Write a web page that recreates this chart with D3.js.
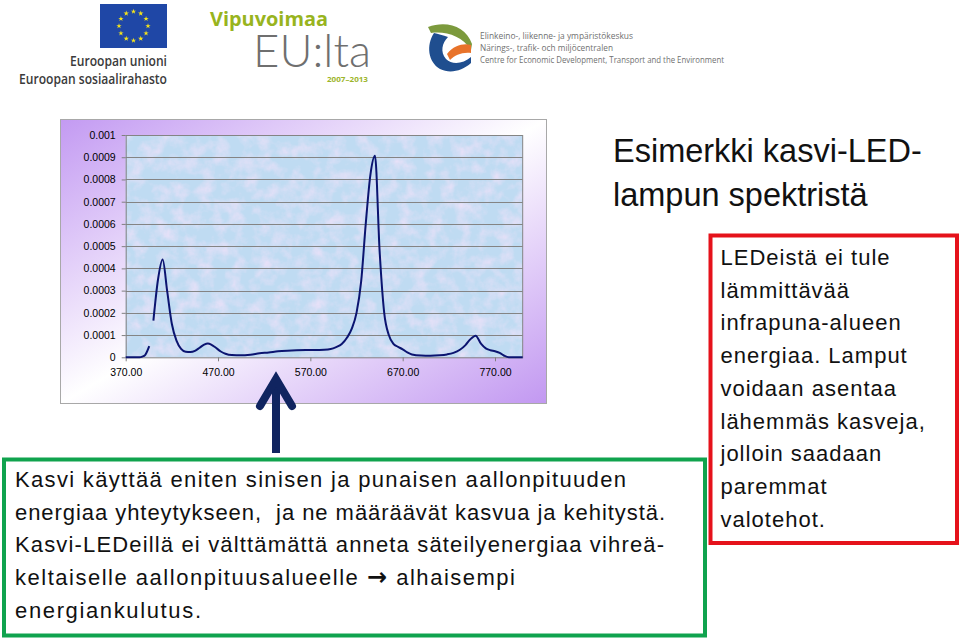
<!DOCTYPE html>
<html><head><meta charset="utf-8">
<script src="https://cdn.jsdelivr.net/npm/d3@7"></script>
<style>body{margin:0;background:#fff}svg{display:block}text{white-space:pre}</style>
</head><body><svg id="c" width="960" height="640"></svg>
<script>
// ---------- DATA ----------
const wavelengths = [
  370, 380, 385, 388, 391, 395.5, 397,
  400, 405, 410, 415, 420, 425, 430, 435, 440, 445,
  450, 455, 459, 463, 467, 473, 478, 485, 495, 505,
  515, 525, 535, 545, 555, 565, 575, 585, 592, 598,
  604, 610, 615, 620, 625, 630, 635, 640, 645, 650,
  655, 660, 665, 670, 675, 680, 690, 700, 710, 718,
  725, 732, 738, 743, 749, 755, 760, 765, 770, 775,
  780, 785, 800
];
const intensity = [
  0, 0, 0, 0.000003, 0.00001, 0.00005, null,
  0.000165, 0.00035, 0.00044, 0.000295, 0.00015, 0.000075, 0.000038, 0.000025, 0.000024, 0.000029,
  0.000043, 0.000057, 0.000062, 0.000056, 0.000045, 0.000026, 0.000016, 0.00001, 0.000009, 0.000012,
  0.000018, 0.000022, 0.000027, 0.00003, 0.000032, 0.000033, 0.000033, 0.000034, 0.000037, 0.000046,
  0.00006, 0.00009, 0.00013, 0.0002, 0.00034, 0.0006, 0.00082, 0.000907, 0.00048, 0.0002,
  0.0001, 0.00006, 0.000047, 0.000036, 0.000022, 0.000013, 0.000008, 0.000007, 0.000009, 0.000013,
  0.00002, 0.000034, 0.000055, 0.00008, 0.0000975, 0.00006, 0.00004, 0.000032, 0.000027, 0.00002,
  0.000007, 0, 0
];
const xTicks = [370, 470, 570, 670, 770];
const xTickLabels = ["370.00", "470.00", "570.00", "670.00", "770.00"];
const yTicks = [0, 0.0001, 0.0002, 0.0003, 0.0004, 0.0005, 0.0006, 0.0007, 0.0008, 0.0009, 0.001];
const yTickLabels = ["0", "0.0001", "0.0002", "0.0003", "0.0004", "0.0005", "0.0006", "0.0007", "0.0008", "0.0009", "0.001"];
const titleLines = ["Esimerkki kasvi-LED-", "lampun spektristä"];
const redLines = ["LEDeistä ei tule", "lämmittävää", "infrapuna-alueen", "energiaa. Lamput",
  "voidaan asentaa", "lähemmäs kasveja,", "jolloin saadaan", "paremmat", "valotehot."];
const greenLines = [
  ["Kasvi käyttää eniten sinisen ja punaisen aallonpituuden"],
  ["energiaa yhteytykseen,  ja ne määräävät kasvua ja kehitystä."],
  ["Kasvi-LEDeillä ei välttämättä anneta säteilyenergiaa vihreä-"],
  ["keltaiselle aallonpituusalueelle ", "\u2192", " alhaisempi"],
  ["energiankulutus."]
];
const euLines = ["Euroopan unioni", "Euroopan sosiaalirahasto"];
const elyLines = ["Elinkeino-, liikenne- ja ympäristökeskus", "Närings-, trafik- och miljöcentralen",
  "Centre for Economic Development, Transport and the Environment"];

// ---------- DRAW ----------
const svg = d3.select("#c");
const defs = svg.append("defs");
svg.append("rect").attr("width", 960).attr("height", 640).attr("fill", "#fff");

const g1 = defs.append("linearGradient").attr("id", "boxGrad")
  .attr("x1", 0).attr("y1", 0).attr("x2", 1).attr("y2", 1);
g1.append("stop").attr("offset", 0).attr("stop-color", "#c39af2");
g1.append("stop").attr("offset", 0.5).attr("stop-color", "#ffffff");
g1.append("stop").attr("offset", 1).attr("stop-color", "#c298f1");

const f = defs.append("filter").attr("id", "mottle").attr("x", 0).attr("y", 0).attr("width", 1).attr("height", 1);
f.append("feTurbulence").attr("type", "fractalNoise").attr("baseFrequency", 0.07).attr("numOctaves", 4).attr("seed", 11).attr("result", "n");
f.append("feColorMatrix").attr("in", "n").attr("type", "matrix")
  .attr("values", "0 0 0 0 0.86  0 0 0 0 0.76  0 0 0 0 0.95  0 0 0 1.6 -0.62").attr("result", "p");
f.append("feComposite").attr("in", "p").attr("in2", "SourceGraphic").attr("operator", "in");

// ---------- logos ----------
const logos = svg.append("g");
logos.append("rect").attr("x", 100).attr("y", 4).attr("width", 67).attr("height", 44).attr("fill", "#1f47a6");
const star = d3.symbol().type(d3.symbolStar).size(9);
d3.range(12).forEach(i => {
  const a = i / 12 * 2 * Math.PI;
  logos.append("path").attr("d", star)
    .attr("transform", `translate(${133.5 + 14.5 * Math.sin(a)},${26 - 14.5 * Math.cos(a)})`)
    .attr("fill", "#f6e51a");
});
logos.selectAll("text.eu").data(euLines).join("text").attr("class", "eu")
  .attr("x", 167).attr("y", (d, i) => 66 + i * 17.5).attr("text-anchor", "end")
  .attr("font-family", "Open Sans, sans-serif").attr("font-size", 14).attr("font-weight", 600)
  .attr("fill", "#3b3b3b")
  .attr("textLength", (d, i) => i === 0 ? 97 : 148).attr("lengthAdjust", "spacingAndGlyphs")
  .text(d => d);

logos.append("text").attr("x", 210).attr("y", 26).attr("font-family", "Open Sans, sans-serif")
  .attr("font-size", 19).attr("font-weight", 700).attr("fill", "#98b41e")
  .attr("textLength", 118).attr("lengthAdjust", "spacingAndGlyphs").text("Vipuvoimaa");
logos.append("text").attr("x", 253).attr("y", 67).attr("font-family", "Lato, Open Sans, sans-serif")
  .attr("font-size", 46).attr("font-weight", 300).attr("fill", "#6f6f6f")
  .attr("textLength", 118).attr("lengthAdjust", "spacingAndGlyphs").text("EU:lta");
logos.append("text").attr("x", 327).attr("y", 82).attr("font-family", "Open Sans, sans-serif")
  .attr("font-size", 7.5).attr("font-weight", 700).attr("fill", "#9cb52a")
  .attr("textLength", 41).attr("lengthAdjust", "spacingAndGlyphs").text("2007\u20132013");

// ELY leaf
logos.append("path").attr("fill", "#7c9a3d")
  .attr("d", "M428,27 C446,20 466,26 472,44 L471,50 C462,36 446,31 431,33 Z");
logos.append("path").attr("fill", "#e8732a")
  .attr("d", "M447,54 C454,45 464,43 471,45 L471,53 C462,52 455,55 450,60 Z");
logos.append("path").attr("fill", "#1f4e8f")
  .attr("d", "M434,33 C426,45 428,62 440,69 C450,74 462,71 471,63 L471,57 C463,64 452,65 446,59 C440,52 442,43 448,37 C443,35 438,34 434,33 Z");
logos.selectAll("text.ely").data(elyLines).join("text").attr("class", "ely")
  .attr("x", 480).attr("y", (d, i) => 38.5 + i * 12)
  .attr("font-family", "Open Sans, sans-serif").attr("font-size", 9.3).attr("fill", "#707070")
  .attr("textLength", (d, i) => [153, 133, 244][i]).attr("lengthAdjust", "spacingAndGlyphs")
  .text(d => d);

// ---------- chart ----------
svg.append("rect").attr("x", 60.5).attr("y", 119.5).attr("width", 486).attr("height", 284)
  .attr("fill", "url(#boxGrad)").attr("stroke", "#a8a8a8").attr("stroke-width", 1);

const x = d3.scaleLinear().domain([370, 800]).range([125.7, 522.7]);
const y = d3.scaleLinear().domain([0, 0.001]).range([357.3, 135]);

svg.append("rect").attr("x", x(370)).attr("y", y(0.001)).attr("width", x(800) - x(370)).attr("height", y(0) - y(0.001))
  .attr("fill", "#bfdbf2");
svg.append("rect").attr("x", x(370)).attr("y", y(0.001)).attr("width", x(800) - x(370)).attr("height", y(0) - y(0.001))
  .attr("fill", "#fff").attr("filter", "url(#mottle)");

svg.append("g").selectAll("line").data(yTicks.slice(1)).join("line")
  .attr("x1", x(370)).attr("x2", x(800)).attr("y1", d => Math.round(y(d)) + 0.5).attr("y2", d => Math.round(y(d)) + 0.5)
  .attr("stroke", "#848484").attr("stroke-width", 1);
svg.append("line").attr("x1", x(800)).attr("x2", x(800)).attr("y1", y(0.001)).attr("y2", y(0))
  .attr("stroke", "#848484");

const yAxis = svg.append("g").attr("transform", `translate(${x(370)},0)`)
  .call(d3.axisLeft(y).tickValues(yTicks).tickFormat((d, i) => yTickLabels[i]).tickSize(4).tickSizeOuter(0).tickPadding(6));
const xAxis = svg.append("g").attr("transform", `translate(0,${y(0)})`)
  .call(d3.axisBottom(x).tickValues(xTicks).tickFormat((d, i) => xTickLabels[i]).tickSize(4).tickSizeOuter(0).tickPadding(7));
[yAxis, xAxis].forEach(a => {
  a.select(".domain").attr("stroke", "#808080");
  a.selectAll(".tick line").attr("stroke", "#808080");
  a.selectAll("text").attr("font-family", "Liberation Sans, Arial, sans-serif").attr("font-size", 10.5).attr("fill", "#000");
});

const pts = wavelengths.map((w, i) => ({ w, v: intensity[i] }));
const line = d3.line().defined(d => d.v !== null).x(d => x(d.w)).y(d => y(d.v)).curve(d3.curveMonotoneX);
svg.append("path").datum(pts).attr("d", line).attr("fill", "none")
  .attr("stroke", "#0b1470").attr("stroke-width", 2).attr("stroke-linejoin", "round");

// ---------- title ----------
svg.selectAll("text.title").data(titleLines).join("text").attr("class", "title")
  .attr("x", 613).attr("y", (d, i) => 161.7 + i * 44.3)
  .attr("font-family", "Liberation Sans, Arial, sans-serif").attr("font-size", 32.5).attr("fill", "#111")
  .text(d => d);

// ---------- arrow ----------
svg.append("path").attr("d", "M276,453 L276,380").attr("stroke", "#102460").attr("stroke-width", 8).attr("fill", "none");
svg.append("path").attr("d", "M260,406 L276,379 L292,406").attr("stroke", "#102460").attr("stroke-width", 8)
  .attr("fill", "none").attr("stroke-linecap", "round").attr("stroke-linejoin", "miter");

// ---------- red box ----------
svg.append("rect").attr("x", 710.5).attr("y", 235.5).attr("width", 246.5).attr("height", 307.5)
  .attr("fill", "none").attr("stroke", "#e5121b").attr("stroke-width", 4);
svg.selectAll("text.red").data(redLines).join("text").attr("class", "red")
  .attr("x", 720.5).attr("y", (d, i) => 265 + i * 32.7)
  .attr("font-family", "Liberation Sans, Arial, sans-serif").attr("font-size", 22).attr("letter-spacing", 1)
  .attr("fill", "#111").text(d => d);

// ---------- green box ----------
svg.append("rect").attr("x", 4).attr("y", 459.5).attr("width", 701).attr("height", 176)
  .attr("fill", "none").attr("stroke", "#10a34e").attr("stroke-width", 4);
const greenWidths = [611, 650, 649, 500, 186];
const gt = svg.selectAll("text.green").data(greenLines).join("text").attr("class", "green")
  .attr("x", 15).attr("y", (d, i) => 487 + i * 32.7)
  .attr("font-family", "Liberation Sans, Arial, sans-serif").attr("font-size", 22)
  .attr("textLength", (d, i) => greenWidths[i]).attr("lengthAdjust", "spacing")
  .attr("fill", "#111");
gt.selectAll("tspan").data(d => d).join("tspan")
  .attr("font-family", t => t === "\u2192" ? "DejaVu Sans, sans-serif" : null)
  .attr("font-weight", t => t === "\u2192" ? 700 : null)
  .attr("font-size", t => t === "\u2192" ? 24 : null)
  .text(t => t);
</script></body></html>
